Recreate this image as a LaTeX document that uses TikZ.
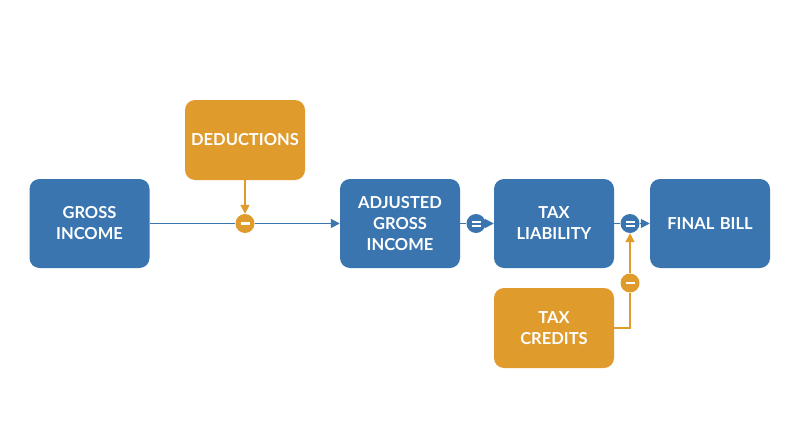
\documentclass[tikz,border=0pt]{standalone}
\usepackage{fontspec}
\setmainfont{Lato}
\usetikzlibrary{arrows.meta,calc}
\definecolor{bblue}{RGB}{58,117,176}
\definecolor{borange}{RGB}{224,155,45}
\begin{document}
\begin{tikzpicture}[x=1pt,y=-1pt,
  box/.style={rounded corners=10pt, minimum width=120pt, text width=116pt, align=center, text=white, font=\bfseries\fontsize{16.5}{21}\selectfont, inner sep=0pt},
  bluebox/.style={box, fill=bblue, minimum height=89pt},
  orbox/.style={box, fill=borange, minimum height=80pt},
  op/.style={circle, minimum size=19pt, inner sep=0pt, text=white, font=\bfseries\fontsize{14}{14}\selectfont},
  bline/.style={draw=bblue, line width=1.7pt},
  oline/.style={draw=borange, line width=1.7pt},
  tip/.style={-{Triangle[length=9pt,width=9pt]}}
]
\useasboundingbox (0,0) rectangle (800,447);
\node[bluebox] (gross) at (89.5,223.5) {GROSS\\INCOME};
\node[orbox] (ded) at (245,140) {DEDUCTIONS};
\node[bluebox] (agi) at (400,223.5) {ADJUSTED\\GROSS\\INCOME};
\node[bluebox] (tax) at (554,223.5) {TAX\\LIABILITY};
\node[bluebox] (final) at (710,223.5) {FINAL BILL};
\node[orbox] (cred) at (554,328) {TAX\\CREDITS};
\node[op, fill=borange] (m1) at (245,223.5) {\rule{9pt}{2.4pt}};
\node[op, fill=bblue] (e1) at (476,223.5) {\rule[1.2pt]{9pt}{2pt}\llap{\rule[-2.8pt]{9pt}{2pt}}};
\node[op, fill=bblue] (e2) at (630,223.5) {\rule[1.2pt]{9pt}{2pt}\llap{\rule[-2.8pt]{9pt}{2pt}}};
\node[op, fill=borange] (m2) at (630,283) {\rule{9pt}{2.4pt}};
\coordinate (c1) at (630,328);
% blue flow
\draw[bline] (gross.east) -- (m1.west);
\draw[bline, tip] (m1.east) -- (agi.west);
\draw[bline] (agi.east) -- (e1.west);
\draw[bline, tip] (e1.east) -- (tax.west);
\draw[bline] (tax.east) -- (e2.west);
\draw[bline, tip] (e2.east) -- (final.west);
% orange
\draw[oline, tip] (ded.south) -- (m1.north);
\draw[oline] (cred.east) -- (c1) -- (m2.south);
\draw[oline, tip] (m2.north) -- (e2.south);
\end{tikzpicture}
\end{document}
